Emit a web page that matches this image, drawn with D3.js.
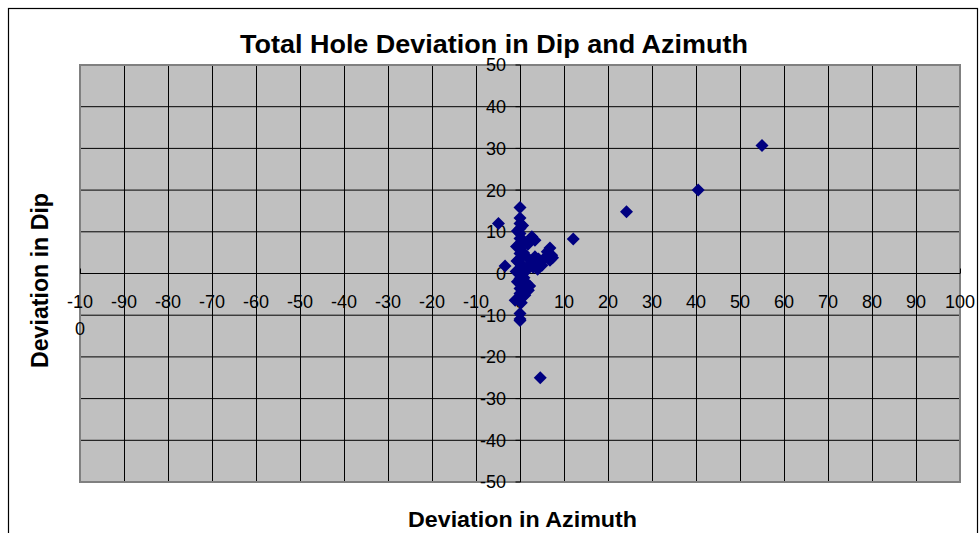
<!DOCTYPE html>
<html><head><meta charset="utf-8">
<script src="https://cdn.jsdelivr.net/npm/d3@7"></script>
<style>body{margin:0;background:#fff;}svg{display:block;}</style>
</head><body>
<svg id="c" width="979" height="533"></svg>
<script>
const xTicks = [-100,-90,-80,-70,-60,-50,-40,-30,-20,-10,0,10,20,30,40,50,60,70,80,90,100];
const yTicks = [-50,-40,-30,-20,-10,0,10,20,30,40,50];
const azimuthDev = [55,40.5,24.2,12.1,4.6,-4.9,-3.4,
  0,0,0,0,0,0,0,0,0,0,0,0,0,0,0,0,0,0,0,0,
  -0.6,-0.8,-0.7,-0.9,-0.6,-1.1,0.6,0.7,0.8,0.5,0.9,0.6,0.3,
  2.7,3.4,1.8,2.0,2.6,1.5,3.0,4.0,1.9,1.1,2.2,1.4,
  6.8,7.2,6.8,4.5,3.4,5.5,6.2,7.4,5.0,4.2];
const dipDev = [30.7,20.0,14.8,8.3,-25.0,12.0,1.8,
  15.8,13.3,12.0,10.8,9.6,8.4,7.2,6.0,4.8,3.6,2.4,1.2,0,-1.2,-2.4,-3.6,-4.8,-9.6,-10.9,-11.3,
  10.2,6.5,3.0,0.5,-2.0,-6.4,11.5,8.0,5.0,2.0,-1.0,-5.5,-7.0,
  8.8,8.0,7.0,3.5,2.5,0.8,1.5,1.0,-4.0,-5.2,-3.0,-2.2,
  6.1,4.4,3.2,2.8,4.0,3.6,5.2,3.8,2.0,3.5];
const titleText = "Total Hole Deviation in Dip and Azimuth";
const xTitle = "Deviation in Azimuth";
const yTitle = "Deviation in Dip";

const svg = d3.select("#c");
const L=80, R=960, T=65, B=482;
const x = d3.scaleLinear().domain([-100,100]).range([L,R]);
const y = d3.scaleLinear().domain([-50,50]).range([B,T]);

// chart area border
svg.append("rect").attr("x",8.5).attr("y",8.5).attr("width",969).attr("height",540)
  .attr("fill","#fff").attr("stroke","#000").attr("stroke-width",1.2);

// plot area
svg.append("rect").attr("x",L).attr("y",T).attr("width",R-L).attr("height",B-T).attr("fill","#c0c0c0");

// gridlines
svg.append("g").selectAll("line").data(xTicks).join("line")
  .attr("x1",d=>Math.round(x(d))+0.5).attr("x2",d=>Math.round(x(d))+0.5)
  .attr("y1",T).attr("y2",B).attr("stroke","#000").attr("stroke-width",1);
svg.append("g").selectAll("line").data(yTicks).join("line")
  .attr("y1",d=>y(d)).attr("y2",d=>y(d))
  .attr("x1",L).attr("x2",R).attr("stroke","#000").attr("stroke-width",1);

// plot border
svg.append("rect").attr("x",L).attr("y",T).attr("width",R-L).attr("height",B-T)
  .attr("fill","none").attr("stroke","#808080").attr("stroke-width",2);

// axes through origin
const x0 = Math.round(x(0))+0.5, y0 = y(0);
svg.append("line").attr("x1",x0).attr("x2",x0).attr("y1",T).attr("y2",B).attr("stroke","#000");
svg.append("line").attr("x1",L).attr("x2",R).attr("y1",y0).attr("y2",y0).attr("stroke","#000");
svg.append("g").selectAll("line").data(yTicks).join("line")
  .attr("x1",x0-5).attr("x2",x0).attr("y1",d=>y(d)).attr("y2",d=>y(d)).attr("stroke","#000");
svg.append("g").selectAll("line").data(xTicks).join("line")
  .attr("x1",d=>Math.round(x(d))+0.5).attr("x2",d=>Math.round(x(d))+0.5)
  .attr("y1",y0-5).attr("y2",y0).attr("stroke","#000");

const font = "Arial, 'Liberation Sans', sans-serif";
// y tick labels
svg.append("g").selectAll("text").data(yTicks).join("text")
  .attr("x",506).attr("y",d=>y(d)).attr("dy","0.36em").attr("text-anchor","end")
  .attr("font-family",font).attr("font-size",18).attr("fill","#000").text(d=>d);
// x tick labels
const xl = svg.append("g").selectAll("text").data(xTicks).join("text")
  .attr("x",d=>x(d)).attr("y",y0+28).attr("dy","0.36em").attr("text-anchor","middle")
  .attr("font-family",font).attr("font-size",18).attr("fill","#000");
xl.each(function(d){
  const s = String(d), t = d3.select(this);
  if (s.length>3) {
    t.append("tspan").attr("x",x(d)).text(s.slice(0,3));
    t.append("tspan").attr("x",x(d)).attr("dy",27).text(s.slice(3));
  } else t.text(s);
});

// points
const diamond = "M0,-6.5L6.5,0L0,6.5L-6.5,0Z";
svg.append("g").selectAll("path").data(azimuthDev.map((a,i)=>[a,dipDev[i]])).join("path")
  .attr("d",diamond).attr("transform",d=>`translate(${x(d[0])},${y(d[1])})`).attr("fill","#000080");

// titles
svg.append("text").attr("x",494).attr("y",53).attr("text-anchor","middle")
  .attr("font-family",font).attr("font-weight","bold").attr("font-size",26)
  .attr("textLength",508).attr("lengthAdjust","spacingAndGlyphs").text(titleText);
svg.append("text").attr("x",522.5).attr("y",527).attr("text-anchor","middle")
  .attr("font-family",font).attr("font-weight","bold").attr("font-size",22)
  .attr("textLength",229).attr("lengthAdjust","spacingAndGlyphs").text(xTitle);
svg.append("text").attr("transform","translate(48,280.5) rotate(-90)").attr("text-anchor","middle")
  .attr("font-family",font).attr("font-weight","bold").attr("font-size",23)
  .attr("textLength",175).attr("lengthAdjust","spacingAndGlyphs").text(yTitle);
</script>
</body></html>
